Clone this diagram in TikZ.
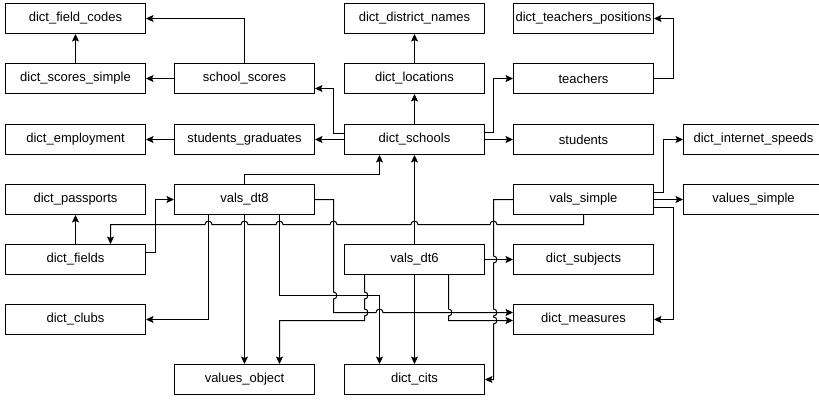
\documentclass[tikz,border=0pt]{standalone}
\usepackage{fontspec}
\setmainfont{Liberation Sans}
\usetikzlibrary{arrows.meta}
\begin{document}
\begin{tikzpicture}[x=1pt,y=-1pt,
  tbl/.style={draw, line width=1pt, minimum width=140pt, minimum height=30pt,
    inner sep=0pt, font=\fontsize{13}{15}\selectfont},
  link/.style={line width=1pt, -{Stealth[length=7.5pt,width=7pt,inset=1.5pt]}},
  % line hops: horizontal going left / right, vertical going down
  hl/.style 2 args={insert path={-- (#1+3.5,#2) .. controls (#1+3.5,#2-4.5) and (#1-3.5,#2-4.5) .. (#1-3.5,#2)}},
  hr/.style 2 args={insert path={-- (#1-3.5,#2) .. controls (#1-3.5,#2-4.5) and (#1+3.5,#2-4.5) .. (#1+3.5,#2)}},
  vd/.style 2 args={insert path={-- (#1,#2-3.5) .. controls (#1+4.5,#2-3.5) and (#1+4.5,#2+3.5) .. (#1,#2+3.5)}}]
\useasboundingbox (0,0) rectangle (819,400);

% tables
\node[tbl] (fc)   at (75.5,18.5)   {dict\_field\_codes};
\node[tbl] (dn)   at (414.5,18.5)  {dict\_district\_names};
\node[tbl] (tp)   at (583.5,18.5)  {dict\_teachers\_positions};
\node[tbl] (ss)   at (75.5,78.5)   {dict\_scores\_simple};
\node[tbl] (sc)   at (244.5,78.5)  {school\_scores};
\node[tbl] (lo)   at (414.5,78.5)  {dict\_locations};
\node[tbl] (te)   at (583.5,78.5)  {teachers};
\node[tbl] (em)   at (75.5,139.5)  {dict\_employment};
\node[tbl] (sg)   at (244.5,139.5) {students\_graduates};
\node[tbl] (sch)  at (414.5,139.5) {dict\_schools};
\node[tbl] (st)   at (583.5,139.5) {students};
\node[tbl] (isp)  at (753.5,139.5) {dict\_internet\_speeds};
\node[tbl] (pa)   at (75.5,199.5)  {dict\_passports};
\node[tbl] (d8)   at (244.5,199.5) {vals\_dt8};
\node[tbl] (vs)   at (583.5,199.5) {vals\_simple};
\node[tbl] (vsim) at (753.5,199.5) {values\_simple};
\node[tbl] (fi)   at (75.5,259.5)  {dict\_fields};
\node[tbl] (d6)   at (414.5,259.5) {vals\_dt6};
\node[tbl] (su)   at (583.5,259.5) {dict\_subjects};
\node[tbl] (cl)   at (75.5,319.5)  {dict\_clubs};
\node[tbl] (me)   at (583.5,319.5) {dict\_measures};
\node[tbl] (vo)   at (244.5,379.5) {values\_object};
\node[tbl] (ci)   at (414.5,379.5) {dict\_cits};

% upper part
\draw[link] (ss.north) -- (fc.south);
\draw[link] (sc.west) -- (ss.east);
\draw[link] (sc.north) -- (sc.north |- fc.east) -- (fc.east);
\draw[link] (lo.north) -- (dn.south);
\draw[link] (sch.north) -- (lo.south);
\draw[link] (sch.west |- 0,133.5) -- (333.5,133.5) -- (333.5,88.5) -- (sc.east |- 0,88.5);
\draw[link] (sch.west) -- (sg.east);
\draw[link] (sg.west) -- (em.east);
\draw[link] (sch.east |- 0,132.5) -- (493.5,132.5) -- (493.5,0 |- te.west) -- (te.west);
\draw[link] (sch.east) -- (st.west);
\draw[link] (te.east) -- (673.5,0 |- te.east) -- (673.5,0 |- tp.east) -- (tp.east);

% vals_dt8
\draw[link] (d8.north) -- (d8.north |- 0,174.5) -- (379.5,174.5) -- (379.5,0 |- sch.south);
\draw[link] (fi.east |- 0,252.5) -- (155.5,252.5) -- (155.5,0 |- d8.west) -- (d8.west);
\draw[link] (fi.north) -- (pa.south);
\draw[link] (208.5,0 |- d8.south) -- (208.5,0 |- cl.east) -- (cl.east);
\draw[link] (d8.south) -- (vo.north);
\draw[link] (279.5,0 |- d8.south) -- (279.5,295.5) -- (379.5,295.5) -- (379.5,0 |- ci.north);
\draw[link] (d8.east) -- (333.5,0 |- d8.east) [vd={333.5}{295.5}] -- (333.5,312.5)
  [hr={379.5}{312.5}] -- (me.west |- 0,312.5);

% vals_simple
\draw[link] (vs.south) -- (vs.south |- 0,224.5) [hl={493.5}{224.5}] [hl={414.5}{224.5}]
  [hl={333.5}{224.5}] [hl={279.5}{224.5}] [hl={244.5}{224.5}] [hl={208.5}{224.5}]
  -- (110.5,224.5) -- (110.5,0 |- fi.north);
\draw[link] (vs.east |- 0,192.5) -- (663.5,192.5) -- (663.5,0 |- isp.west) -- (isp.west);
\draw[link] (vs.east) -- (vsim.west);
\draw[link] (vs.east |- 0,207.5) -- (673.5,207.5) -- (673.5,0 |- me.east) -- (me.east);
\draw[link] (vs.west) -- (493.5,0 |- vs.west) [vd={493.5}{259.5}] [vd={493.5}{312.5}]
  [vd={493.5}{320.5}] -- (493.5,0 |- ci.east) -- (ci.east);

% vals_dt6
\draw[link] (d6.north) -- (sch.south);
\draw[link] (d6.south) -- (ci.north);
\draw[link] (d6.east) -- (su.west);
\draw[link] (364.5,0 |- d6.south) [vd={364.5}{295.5}] [vd={364.5}{312.5}] -- (364.5,320.5)
  -- (279.5,320.5) -- (279.5,0 |- vo.north);
\draw[link] (448.5,0 |- d6.south) [vd={448.5}{312.5}] -- (448.5,320.5) -- (me.west |- 0,320.5);
\end{tikzpicture}
\end{document}
